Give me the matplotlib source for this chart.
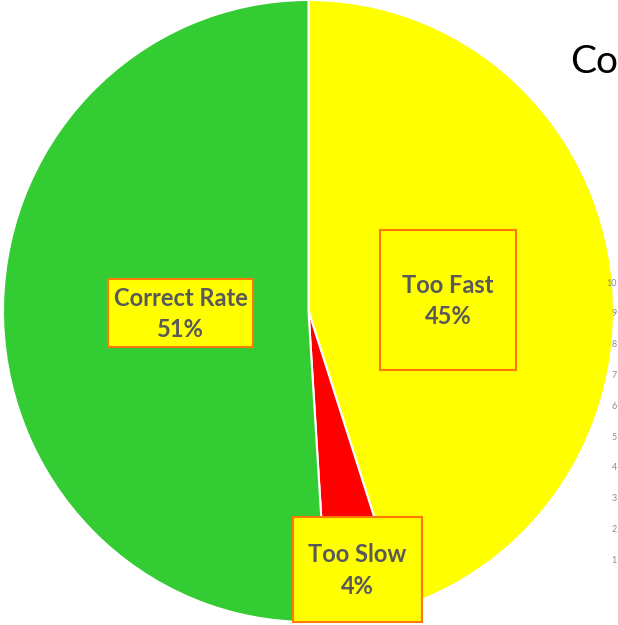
import matplotlib.pyplot as plt
from matplotlib.patches import Rectangle

labels = ['Too Fast', 'Too Slow', 'Correct Rate']
shares = [45, 4, 51]
colors = ['#FFFF00', '#FF0000', '#33CC33']
axis_ticks = ['10', '9', '8', '7', '6', '5', '4', '3', '2', '1']

W, H = 618, 625
fig = plt.figure(figsize=(W / 100, H / 100), dpi=100)
fig.patch.set_facecolor('white')

# title of the neighbouring chart
bg = fig.add_axes([0, 0, 1, 1], zorder=0)
bg.set_xlim(0, W)
bg.set_ylim(H, 0)
bg.axis('off')
bg.text(570, 62, 'Co', fontsize=28, family='Lato', color='black', va='center', ha='left')

ax = fig.add_axes([3 / W, 3 / H, 611 / W, 622 / H], zorder=1)
ax.pie(shares, colors=colors, startangle=90, counterclock=False, radius=1,
       wedgeprops=dict(edgecolor='white', linewidth=1.5))
ax.set_xlim(-1, 1)
ax.set_ylim(-1, 1)
ax.set_aspect('auto')
ax.axis('off')

# data label boxes (pixel coords: x0, y0, x1, y1) and the axis labels on the right
fg = fig.add_axes([0, 0, 1, 1], zorder=2)
fg.set_xlim(0, W)
fg.set_ylim(H, 0)
fg.axis('off')
for i, t in enumerate(axis_ticks):
    fg.text(617, 283 + i * 30.8, t, fontsize=6.5, color='#8C8C8C', ha='right', va='center',
            family='Lato')

boxes = {'Too Fast': (380, 230, 516, 370),
         'Too Slow': (293, 517, 422, 622),
         'Correct Rate': (108, 279, 253, 347)}
for lab, val in zip(labels, shares):
    x0, y0, x1, y1 = boxes[lab]
    fg.add_patch(Rectangle((x0, y0), x1 - x0, y1 - y0, facecolor='#FFFF00',
                           edgecolor='#FF7A00', linewidth=1.5))
    fg.text((x0 + x1) / 2, (y0 + y1) / 2 + 1, f'{lab}\n{val}%', ha='center', va='center',
            fontsize=17, fontweight='bold', family='Lato', color='#595959',
            linespacing=1.45)

fig.savefig('out.png', dpi=100)
